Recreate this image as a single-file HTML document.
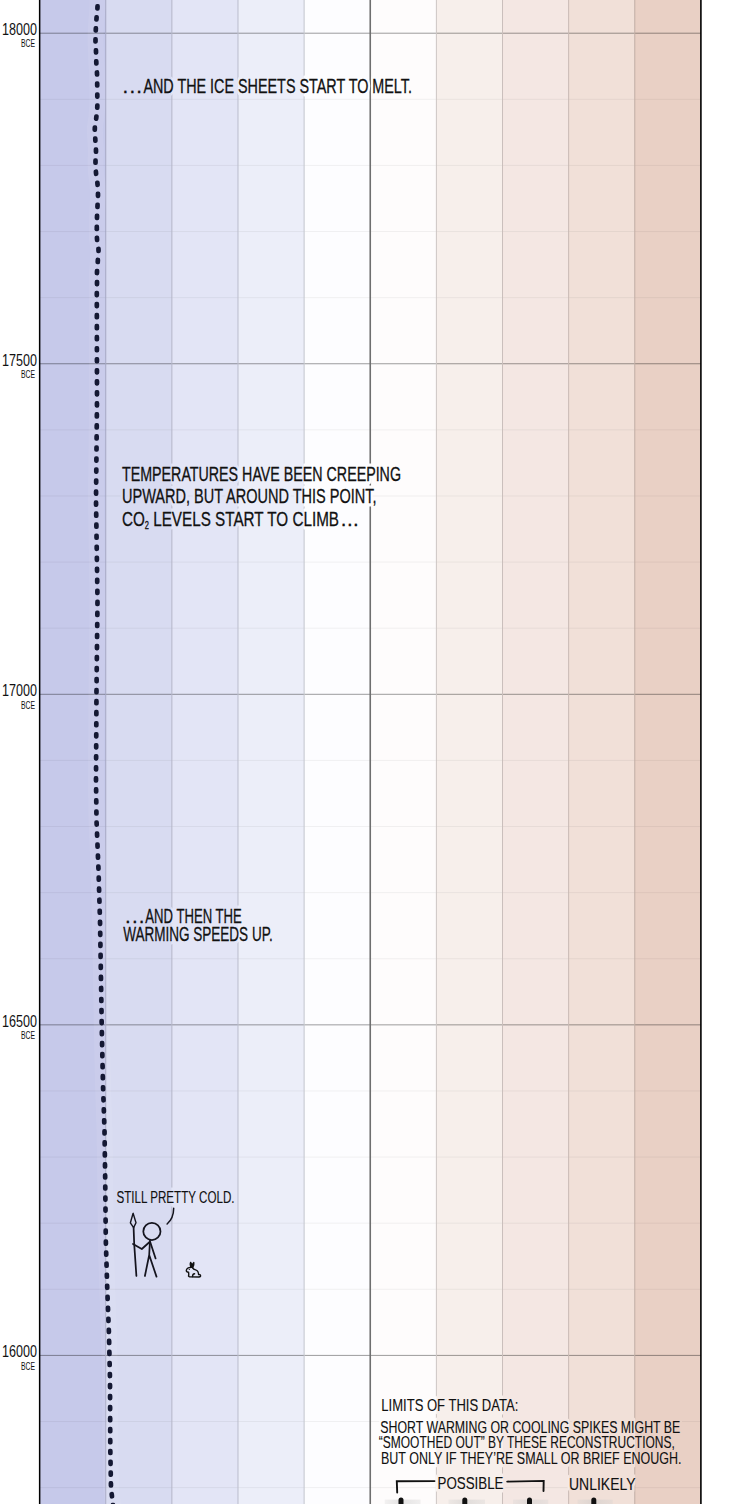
<!DOCTYPE html>
<html><head><meta charset="utf-8"><style>
html,body{margin:0;padding:0;background:#fff;width:740px;height:1504px;overflow:hidden}
svg{display:block}
text{font-family:"Liberation Sans",sans-serif;fill:#111;stroke:#111;stroke-width:0.3px}
.yr{font-size:16.5px;stroke-width:0px}
.bce{font-size:10.5px;stroke-width:0px}
.t{font-size:20.5px}
.s{font-size:17px;stroke-width:0.12px}
.sub{font-size:10px}
.halo text{fill:#000;stroke:#000;stroke-width:7px;stroke-linejoin:round}
</style></head><body>
<svg width="740" height="1504" viewBox="0 0 740 1504">
<defs><linearGradient id="bg" x1="0" x2="1" y1="0" y2="0"><stop offset="0" stop-color="#d0d0d0" stop-opacity="0.25"/><stop offset="0.45" stop-color="#c8c8c8" stop-opacity="0.5"/><stop offset="1" stop-color="#d0d0d0" stop-opacity="0.3"/></linearGradient><mask id="km" maskUnits="userSpaceOnUse" x="0" y="0" width="740" height="1504"><rect x="0" y="0" width="740" height="1504" fill="#fff"/><g class="halo"><text x="122.5" y="92.5" class="t" textLength="19.5" lengthAdjust="spacing">...</text>
<text x="143.4" y="92.5" class="t" textLength="268.5" lengthAdjust="spacingAndGlyphs">AND THE ICE SHEETS START TO MELT.</text>
<text x="122" y="480.5" class="t" textLength="279" lengthAdjust="spacingAndGlyphs">TEMPERATURES HAVE BEEN CREEPING</text>
<text x="122" y="502.7" class="t" textLength="254.5" lengthAdjust="spacingAndGlyphs">UPWARD, BUT AROUND THIS POINT,</text>
<text x="122" y="526" class="t" textLength="217" lengthAdjust="spacingAndGlyphs">CO<tspan class="sub" dy="3">2</tspan><tspan dy="-3"> LEVELS START TO CLIMB</tspan></text>
<text x="340.8" y="526" class="t" textLength="18" lengthAdjust="spacing">...</text>
<text x="125" y="922.7" class="t" textLength="19.5" lengthAdjust="spacing">...</text>
<text x="145.3" y="922.7" class="t" textLength="96.5" lengthAdjust="spacingAndGlyphs">AND THEN THE</text>
<text x="123.2" y="941" class="t" textLength="149.5" lengthAdjust="spacingAndGlyphs">WARMING SPEEDS UP.</text>
<text x="116.5" y="1202.7" class="s" textLength="118" lengthAdjust="spacingAndGlyphs">STILL PRETTY COLD.</text>
<text x="381.3" y="1410.5" class="s" textLength="137" lengthAdjust="spacingAndGlyphs">LIMITS OF THIS DATA:</text>
<text x="380.3" y="1432.5" class="s" textLength="300" lengthAdjust="spacingAndGlyphs">SHORT WARMING OR COOLING SPIKES MIGHT BE</text>
<text x="378.8" y="1447.5" class="s" textLength="296" lengthAdjust="spacingAndGlyphs">“SMOOTHED OUT” BY THESE RECONSTRUCTIONS,</text>
<text x="381" y="1463.5" class="s" textLength="300.5" lengthAdjust="spacingAndGlyphs">BUT ONLY IF THEY’RE SMALL OR BRIEF ENOUGH.</text>
<text x="437.5" y="1489" class="s" textLength="66" lengthAdjust="spacingAndGlyphs">POSSIBLE</text>
<text x="569" y="1489.5" class="s" textLength="66.5" lengthAdjust="spacingAndGlyphs">UNLIKELY</text></g></mask></defs>
<rect x="0" y="0" width="740" height="1504" fill="#fff"/>
<rect x="39.60" y="0" width="66.13" height="1504" fill="#c6c9ea"/>
<rect x="105.73" y="0" width="66.13" height="1504" fill="#d8dbf1"/>
<rect x="171.86" y="0" width="66.13" height="1504" fill="#e3e5f6"/>
<rect x="237.99" y="0" width="66.13" height="1504" fill="#eceef9"/>
<rect x="304.12" y="0" width="66.13" height="1504" fill="#fdfdff"/>
<rect x="370.25" y="0" width="66.13" height="1504" fill="#fefcfc"/>
<rect x="436.38" y="0" width="66.13" height="1504" fill="#f7efeb"/>
<rect x="502.51" y="0" width="66.13" height="1504" fill="#f4e7e3"/>
<rect x="568.64" y="0" width="66.13" height="1504" fill="#f1e0d8"/>
<rect x="634.77" y="0" width="66.13" height="1504" fill="#e9d0c5"/>
<g mask="url(#km)">
<rect x="39.60" y="32.70" width="66.13" height="1" fill="#7a7c91"/>
<rect x="105.73" y="32.70" width="66.13" height="1" fill="#858795"/>
<rect x="171.86" y="32.70" width="66.13" height="1" fill="#8c8d98"/>
<rect x="237.99" y="32.70" width="66.13" height="1" fill="#92939a"/>
<rect x="304.12" y="32.70" width="66.13" height="1" fill="#9c9c9e"/>
<rect x="370.25" y="32.70" width="66.13" height="1" fill="#9d9c9c"/>
<rect x="436.38" y="32.70" width="66.13" height="1" fill="#999491"/>
<rect x="502.51" y="32.70" width="66.13" height="1" fill="#978f8c"/>
<rect x="568.64" y="32.70" width="66.13" height="1" fill="#958a85"/>
<rect x="634.77" y="32.70" width="66.13" height="1" fill="#90807a"/>
<rect x="39.60" y="98.81" width="66.13" height="1" fill="#bcbede"/>
<rect x="105.73" y="98.81" width="66.13" height="1" fill="#cdd0e4"/>
<rect x="171.86" y="98.81" width="66.13" height="1" fill="#d7d9e9"/>
<rect x="237.99" y="98.81" width="66.13" height="1" fill="#e0e2ec"/>
<rect x="304.12" y="98.81" width="66.13" height="1" fill="#f0f0f2"/>
<rect x="370.25" y="98.81" width="66.13" height="1" fill="#f1efef"/>
<rect x="436.38" y="98.81" width="66.13" height="1" fill="#eae3df"/>
<rect x="502.51" y="98.81" width="66.13" height="1" fill="#e7dbd7"/>
<rect x="568.64" y="98.81" width="66.13" height="1" fill="#e4d4cd"/>
<rect x="634.77" y="98.81" width="66.13" height="1" fill="#ddc5bb"/>
<rect x="39.60" y="164.92" width="66.13" height="1" fill="#bcbede"/>
<rect x="105.73" y="164.92" width="66.13" height="1" fill="#cdd0e4"/>
<rect x="171.86" y="164.92" width="66.13" height="1" fill="#d7d9e9"/>
<rect x="237.99" y="164.92" width="66.13" height="1" fill="#e0e2ec"/>
<rect x="304.12" y="164.92" width="66.13" height="1" fill="#f0f0f2"/>
<rect x="370.25" y="164.92" width="66.13" height="1" fill="#f1efef"/>
<rect x="436.38" y="164.92" width="66.13" height="1" fill="#eae3df"/>
<rect x="502.51" y="164.92" width="66.13" height="1" fill="#e7dbd7"/>
<rect x="568.64" y="164.92" width="66.13" height="1" fill="#e4d4cd"/>
<rect x="634.77" y="164.92" width="66.13" height="1" fill="#ddc5bb"/>
<rect x="39.60" y="231.03" width="66.13" height="1" fill="#bcbede"/>
<rect x="105.73" y="231.03" width="66.13" height="1" fill="#cdd0e4"/>
<rect x="171.86" y="231.03" width="66.13" height="1" fill="#d7d9e9"/>
<rect x="237.99" y="231.03" width="66.13" height="1" fill="#e0e2ec"/>
<rect x="304.12" y="231.03" width="66.13" height="1" fill="#f0f0f2"/>
<rect x="370.25" y="231.03" width="66.13" height="1" fill="#f1efef"/>
<rect x="436.38" y="231.03" width="66.13" height="1" fill="#eae3df"/>
<rect x="502.51" y="231.03" width="66.13" height="1" fill="#e7dbd7"/>
<rect x="568.64" y="231.03" width="66.13" height="1" fill="#e4d4cd"/>
<rect x="634.77" y="231.03" width="66.13" height="1" fill="#ddc5bb"/>
<rect x="39.60" y="297.14" width="66.13" height="1" fill="#bcbede"/>
<rect x="105.73" y="297.14" width="66.13" height="1" fill="#cdd0e4"/>
<rect x="171.86" y="297.14" width="66.13" height="1" fill="#d7d9e9"/>
<rect x="237.99" y="297.14" width="66.13" height="1" fill="#e0e2ec"/>
<rect x="304.12" y="297.14" width="66.13" height="1" fill="#f0f0f2"/>
<rect x="370.25" y="297.14" width="66.13" height="1" fill="#f1efef"/>
<rect x="436.38" y="297.14" width="66.13" height="1" fill="#eae3df"/>
<rect x="502.51" y="297.14" width="66.13" height="1" fill="#e7dbd7"/>
<rect x="568.64" y="297.14" width="66.13" height="1" fill="#e4d4cd"/>
<rect x="634.77" y="297.14" width="66.13" height="1" fill="#ddc5bb"/>
<rect x="39.60" y="363.25" width="66.13" height="1" fill="#7a7c91"/>
<rect x="105.73" y="363.25" width="66.13" height="1" fill="#858795"/>
<rect x="171.86" y="363.25" width="66.13" height="1" fill="#8c8d98"/>
<rect x="237.99" y="363.25" width="66.13" height="1" fill="#92939a"/>
<rect x="304.12" y="363.25" width="66.13" height="1" fill="#9c9c9e"/>
<rect x="370.25" y="363.25" width="66.13" height="1" fill="#9d9c9c"/>
<rect x="436.38" y="363.25" width="66.13" height="1" fill="#999491"/>
<rect x="502.51" y="363.25" width="66.13" height="1" fill="#978f8c"/>
<rect x="568.64" y="363.25" width="66.13" height="1" fill="#958a85"/>
<rect x="634.77" y="363.25" width="66.13" height="1" fill="#90807a"/>
<rect x="39.60" y="429.36" width="66.13" height="1" fill="#bcbede"/>
<rect x="105.73" y="429.36" width="66.13" height="1" fill="#cdd0e4"/>
<rect x="171.86" y="429.36" width="66.13" height="1" fill="#d7d9e9"/>
<rect x="237.99" y="429.36" width="66.13" height="1" fill="#e0e2ec"/>
<rect x="304.12" y="429.36" width="66.13" height="1" fill="#f0f0f2"/>
<rect x="370.25" y="429.36" width="66.13" height="1" fill="#f1efef"/>
<rect x="436.38" y="429.36" width="66.13" height="1" fill="#eae3df"/>
<rect x="502.51" y="429.36" width="66.13" height="1" fill="#e7dbd7"/>
<rect x="568.64" y="429.36" width="66.13" height="1" fill="#e4d4cd"/>
<rect x="634.77" y="429.36" width="66.13" height="1" fill="#ddc5bb"/>
<rect x="39.60" y="495.47" width="66.13" height="1" fill="#bcbede"/>
<rect x="105.73" y="495.47" width="66.13" height="1" fill="#cdd0e4"/>
<rect x="171.86" y="495.47" width="66.13" height="1" fill="#d7d9e9"/>
<rect x="237.99" y="495.47" width="66.13" height="1" fill="#e0e2ec"/>
<rect x="304.12" y="495.47" width="66.13" height="1" fill="#f0f0f2"/>
<rect x="370.25" y="495.47" width="66.13" height="1" fill="#f1efef"/>
<rect x="436.38" y="495.47" width="66.13" height="1" fill="#eae3df"/>
<rect x="502.51" y="495.47" width="66.13" height="1" fill="#e7dbd7"/>
<rect x="568.64" y="495.47" width="66.13" height="1" fill="#e4d4cd"/>
<rect x="634.77" y="495.47" width="66.13" height="1" fill="#ddc5bb"/>
<rect x="39.60" y="561.58" width="66.13" height="1" fill="#bcbede"/>
<rect x="105.73" y="561.58" width="66.13" height="1" fill="#cdd0e4"/>
<rect x="171.86" y="561.58" width="66.13" height="1" fill="#d7d9e9"/>
<rect x="237.99" y="561.58" width="66.13" height="1" fill="#e0e2ec"/>
<rect x="304.12" y="561.58" width="66.13" height="1" fill="#f0f0f2"/>
<rect x="370.25" y="561.58" width="66.13" height="1" fill="#f1efef"/>
<rect x="436.38" y="561.58" width="66.13" height="1" fill="#eae3df"/>
<rect x="502.51" y="561.58" width="66.13" height="1" fill="#e7dbd7"/>
<rect x="568.64" y="561.58" width="66.13" height="1" fill="#e4d4cd"/>
<rect x="634.77" y="561.58" width="66.13" height="1" fill="#ddc5bb"/>
<rect x="39.60" y="627.69" width="66.13" height="1" fill="#bcbede"/>
<rect x="105.73" y="627.69" width="66.13" height="1" fill="#cdd0e4"/>
<rect x="171.86" y="627.69" width="66.13" height="1" fill="#d7d9e9"/>
<rect x="237.99" y="627.69" width="66.13" height="1" fill="#e0e2ec"/>
<rect x="304.12" y="627.69" width="66.13" height="1" fill="#f0f0f2"/>
<rect x="370.25" y="627.69" width="66.13" height="1" fill="#f1efef"/>
<rect x="436.38" y="627.69" width="66.13" height="1" fill="#eae3df"/>
<rect x="502.51" y="627.69" width="66.13" height="1" fill="#e7dbd7"/>
<rect x="568.64" y="627.69" width="66.13" height="1" fill="#e4d4cd"/>
<rect x="634.77" y="627.69" width="66.13" height="1" fill="#ddc5bb"/>
<rect x="39.60" y="693.80" width="66.13" height="1" fill="#7a7c91"/>
<rect x="105.73" y="693.80" width="66.13" height="1" fill="#858795"/>
<rect x="171.86" y="693.80" width="66.13" height="1" fill="#8c8d98"/>
<rect x="237.99" y="693.80" width="66.13" height="1" fill="#92939a"/>
<rect x="304.12" y="693.80" width="66.13" height="1" fill="#9c9c9e"/>
<rect x="370.25" y="693.80" width="66.13" height="1" fill="#9d9c9c"/>
<rect x="436.38" y="693.80" width="66.13" height="1" fill="#999491"/>
<rect x="502.51" y="693.80" width="66.13" height="1" fill="#978f8c"/>
<rect x="568.64" y="693.80" width="66.13" height="1" fill="#958a85"/>
<rect x="634.77" y="693.80" width="66.13" height="1" fill="#90807a"/>
<rect x="39.60" y="759.91" width="66.13" height="1" fill="#bcbede"/>
<rect x="105.73" y="759.91" width="66.13" height="1" fill="#cdd0e4"/>
<rect x="171.86" y="759.91" width="66.13" height="1" fill="#d7d9e9"/>
<rect x="237.99" y="759.91" width="66.13" height="1" fill="#e0e2ec"/>
<rect x="304.12" y="759.91" width="66.13" height="1" fill="#f0f0f2"/>
<rect x="370.25" y="759.91" width="66.13" height="1" fill="#f1efef"/>
<rect x="436.38" y="759.91" width="66.13" height="1" fill="#eae3df"/>
<rect x="502.51" y="759.91" width="66.13" height="1" fill="#e7dbd7"/>
<rect x="568.64" y="759.91" width="66.13" height="1" fill="#e4d4cd"/>
<rect x="634.77" y="759.91" width="66.13" height="1" fill="#ddc5bb"/>
<rect x="39.60" y="826.02" width="66.13" height="1" fill="#bcbede"/>
<rect x="105.73" y="826.02" width="66.13" height="1" fill="#cdd0e4"/>
<rect x="171.86" y="826.02" width="66.13" height="1" fill="#d7d9e9"/>
<rect x="237.99" y="826.02" width="66.13" height="1" fill="#e0e2ec"/>
<rect x="304.12" y="826.02" width="66.13" height="1" fill="#f0f0f2"/>
<rect x="370.25" y="826.02" width="66.13" height="1" fill="#f1efef"/>
<rect x="436.38" y="826.02" width="66.13" height="1" fill="#eae3df"/>
<rect x="502.51" y="826.02" width="66.13" height="1" fill="#e7dbd7"/>
<rect x="568.64" y="826.02" width="66.13" height="1" fill="#e4d4cd"/>
<rect x="634.77" y="826.02" width="66.13" height="1" fill="#ddc5bb"/>
<rect x="39.60" y="892.13" width="66.13" height="1" fill="#bcbede"/>
<rect x="105.73" y="892.13" width="66.13" height="1" fill="#cdd0e4"/>
<rect x="171.86" y="892.13" width="66.13" height="1" fill="#d7d9e9"/>
<rect x="237.99" y="892.13" width="66.13" height="1" fill="#e0e2ec"/>
<rect x="304.12" y="892.13" width="66.13" height="1" fill="#f0f0f2"/>
<rect x="370.25" y="892.13" width="66.13" height="1" fill="#f1efef"/>
<rect x="436.38" y="892.13" width="66.13" height="1" fill="#eae3df"/>
<rect x="502.51" y="892.13" width="66.13" height="1" fill="#e7dbd7"/>
<rect x="568.64" y="892.13" width="66.13" height="1" fill="#e4d4cd"/>
<rect x="634.77" y="892.13" width="66.13" height="1" fill="#ddc5bb"/>
<rect x="39.60" y="958.24" width="66.13" height="1" fill="#bcbede"/>
<rect x="105.73" y="958.24" width="66.13" height="1" fill="#cdd0e4"/>
<rect x="171.86" y="958.24" width="66.13" height="1" fill="#d7d9e9"/>
<rect x="237.99" y="958.24" width="66.13" height="1" fill="#e0e2ec"/>
<rect x="304.12" y="958.24" width="66.13" height="1" fill="#f0f0f2"/>
<rect x="370.25" y="958.24" width="66.13" height="1" fill="#f1efef"/>
<rect x="436.38" y="958.24" width="66.13" height="1" fill="#eae3df"/>
<rect x="502.51" y="958.24" width="66.13" height="1" fill="#e7dbd7"/>
<rect x="568.64" y="958.24" width="66.13" height="1" fill="#e4d4cd"/>
<rect x="634.77" y="958.24" width="66.13" height="1" fill="#ddc5bb"/>
<rect x="39.60" y="1024.35" width="66.13" height="1" fill="#7a7c91"/>
<rect x="105.73" y="1024.35" width="66.13" height="1" fill="#858795"/>
<rect x="171.86" y="1024.35" width="66.13" height="1" fill="#8c8d98"/>
<rect x="237.99" y="1024.35" width="66.13" height="1" fill="#92939a"/>
<rect x="304.12" y="1024.35" width="66.13" height="1" fill="#9c9c9e"/>
<rect x="370.25" y="1024.35" width="66.13" height="1" fill="#9d9c9c"/>
<rect x="436.38" y="1024.35" width="66.13" height="1" fill="#999491"/>
<rect x="502.51" y="1024.35" width="66.13" height="1" fill="#978f8c"/>
<rect x="568.64" y="1024.35" width="66.13" height="1" fill="#958a85"/>
<rect x="634.77" y="1024.35" width="66.13" height="1" fill="#90807a"/>
<rect x="39.60" y="1090.46" width="66.13" height="1" fill="#bcbede"/>
<rect x="105.73" y="1090.46" width="66.13" height="1" fill="#cdd0e4"/>
<rect x="171.86" y="1090.46" width="66.13" height="1" fill="#d7d9e9"/>
<rect x="237.99" y="1090.46" width="66.13" height="1" fill="#e0e2ec"/>
<rect x="304.12" y="1090.46" width="66.13" height="1" fill="#f0f0f2"/>
<rect x="370.25" y="1090.46" width="66.13" height="1" fill="#f1efef"/>
<rect x="436.38" y="1090.46" width="66.13" height="1" fill="#eae3df"/>
<rect x="502.51" y="1090.46" width="66.13" height="1" fill="#e7dbd7"/>
<rect x="568.64" y="1090.46" width="66.13" height="1" fill="#e4d4cd"/>
<rect x="634.77" y="1090.46" width="66.13" height="1" fill="#ddc5bb"/>
<rect x="39.60" y="1156.57" width="66.13" height="1" fill="#bcbede"/>
<rect x="105.73" y="1156.57" width="66.13" height="1" fill="#cdd0e4"/>
<rect x="171.86" y="1156.57" width="66.13" height="1" fill="#d7d9e9"/>
<rect x="237.99" y="1156.57" width="66.13" height="1" fill="#e0e2ec"/>
<rect x="304.12" y="1156.57" width="66.13" height="1" fill="#f0f0f2"/>
<rect x="370.25" y="1156.57" width="66.13" height="1" fill="#f1efef"/>
<rect x="436.38" y="1156.57" width="66.13" height="1" fill="#eae3df"/>
<rect x="502.51" y="1156.57" width="66.13" height="1" fill="#e7dbd7"/>
<rect x="568.64" y="1156.57" width="66.13" height="1" fill="#e4d4cd"/>
<rect x="634.77" y="1156.57" width="66.13" height="1" fill="#ddc5bb"/>
<rect x="39.60" y="1222.68" width="66.13" height="1" fill="#bcbede"/>
<rect x="105.73" y="1222.68" width="66.13" height="1" fill="#cdd0e4"/>
<rect x="171.86" y="1222.68" width="66.13" height="1" fill="#d7d9e9"/>
<rect x="237.99" y="1222.68" width="66.13" height="1" fill="#e0e2ec"/>
<rect x="304.12" y="1222.68" width="66.13" height="1" fill="#f0f0f2"/>
<rect x="370.25" y="1222.68" width="66.13" height="1" fill="#f1efef"/>
<rect x="436.38" y="1222.68" width="66.13" height="1" fill="#eae3df"/>
<rect x="502.51" y="1222.68" width="66.13" height="1" fill="#e7dbd7"/>
<rect x="568.64" y="1222.68" width="66.13" height="1" fill="#e4d4cd"/>
<rect x="634.77" y="1222.68" width="66.13" height="1" fill="#ddc5bb"/>
<rect x="39.60" y="1288.79" width="66.13" height="1" fill="#bcbede"/>
<rect x="105.73" y="1288.79" width="66.13" height="1" fill="#cdd0e4"/>
<rect x="171.86" y="1288.79" width="66.13" height="1" fill="#d7d9e9"/>
<rect x="237.99" y="1288.79" width="66.13" height="1" fill="#e0e2ec"/>
<rect x="304.12" y="1288.79" width="66.13" height="1" fill="#f0f0f2"/>
<rect x="370.25" y="1288.79" width="66.13" height="1" fill="#f1efef"/>
<rect x="436.38" y="1288.79" width="66.13" height="1" fill="#eae3df"/>
<rect x="502.51" y="1288.79" width="66.13" height="1" fill="#e7dbd7"/>
<rect x="568.64" y="1288.79" width="66.13" height="1" fill="#e4d4cd"/>
<rect x="634.77" y="1288.79" width="66.13" height="1" fill="#ddc5bb"/>
<rect x="39.60" y="1354.90" width="66.13" height="1" fill="#7a7c91"/>
<rect x="105.73" y="1354.90" width="66.13" height="1" fill="#858795"/>
<rect x="171.86" y="1354.90" width="66.13" height="1" fill="#8c8d98"/>
<rect x="237.99" y="1354.90" width="66.13" height="1" fill="#92939a"/>
<rect x="304.12" y="1354.90" width="66.13" height="1" fill="#9c9c9e"/>
<rect x="370.25" y="1354.90" width="66.13" height="1" fill="#9d9c9c"/>
<rect x="436.38" y="1354.90" width="66.13" height="1" fill="#999491"/>
<rect x="502.51" y="1354.90" width="66.13" height="1" fill="#978f8c"/>
<rect x="568.64" y="1354.90" width="66.13" height="1" fill="#958a85"/>
<rect x="634.77" y="1354.90" width="66.13" height="1" fill="#90807a"/>
<rect x="39.60" y="1421.01" width="66.13" height="1" fill="#bcbede"/>
<rect x="105.73" y="1421.01" width="66.13" height="1" fill="#cdd0e4"/>
<rect x="171.86" y="1421.01" width="66.13" height="1" fill="#d7d9e9"/>
<rect x="237.99" y="1421.01" width="66.13" height="1" fill="#e0e2ec"/>
<rect x="304.12" y="1421.01" width="66.13" height="1" fill="#f0f0f2"/>
<rect x="370.25" y="1421.01" width="66.13" height="1" fill="#f1efef"/>
<rect x="436.38" y="1421.01" width="66.13" height="1" fill="#eae3df"/>
<rect x="502.51" y="1421.01" width="66.13" height="1" fill="#e7dbd7"/>
<rect x="568.64" y="1421.01" width="66.13" height="1" fill="#e4d4cd"/>
<rect x="634.77" y="1421.01" width="66.13" height="1" fill="#ddc5bb"/>
<rect x="39.60" y="1487.12" width="66.13" height="1" fill="#bcbede"/>
<rect x="105.73" y="1487.12" width="66.13" height="1" fill="#cdd0e4"/>
<rect x="171.86" y="1487.12" width="66.13" height="1" fill="#d7d9e9"/>
<rect x="237.99" y="1487.12" width="66.13" height="1" fill="#e0e2ec"/>
<rect x="304.12" y="1487.12" width="66.13" height="1" fill="#f0f0f2"/>
<rect x="370.25" y="1487.12" width="66.13" height="1" fill="#f1efef"/>
<rect x="436.38" y="1487.12" width="66.13" height="1" fill="#eae3df"/>
<rect x="502.51" y="1487.12" width="66.13" height="1" fill="#e7dbd7"/>
<rect x="568.64" y="1487.12" width="66.13" height="1" fill="#e4d4cd"/>
<rect x="634.77" y="1487.12" width="66.13" height="1" fill="#ddc5bb"/>
<rect x="105.23" y="0" width="1" height="1504" fill="#a4a6c2"/>
<rect x="171.36" y="0" width="1" height="1504" fill="#b3b5c8"/>
<rect x="237.49" y="0" width="1" height="1504" fill="#bcbecc"/>
<rect x="303.62" y="0" width="1" height="1504" fill="#c3c5ce"/>
<rect x="435.88" y="0" width="1" height="1504" fill="#cdc6c3"/>
<rect x="502.01" y="0" width="1" height="1504" fill="#cabfbc"/>
<rect x="568.14" y="0" width="1" height="1504" fill="#c8b9b3"/>
<rect x="634.27" y="0" width="1" height="1504" fill="#c1aca3"/>
<rect x="369.45" y="0" width="1.6" height="1504" fill="#6e6e6e"/>
<rect x="38.9" y="0" width="1.5" height="1504" fill="#000"/>
<rect x="700.1" y="0" width="1.6" height="1504" fill="#000"/>
</g>
<path d="M97.5,-10 L97.5,7 L96.5,18.5 L95.8,29.5 L95.5,40.5 L96,51.5 L96.3,62.5 L97,73.5 L97.2,84.5 L97.3,95.5 L97.3,106.5 L96.3,117.5 L94.8,128.5 L95.3,139.5 L96,151 L95.5,162 L96,173 L97.5,184 L98,195 L97.5,206 L97,217 L96.8,228 L97,239 L98.5,250 L97.8,261 L97,272 L97,283 L96.8,294 L97,400 L96,500 L97.5,600 L96.5,690 L96,780 L96.5,820 L98.5,870 L100,920 L101,980 L101.8,1030 L103,1085 L104.5,1130 L105.2,1180 L105.8,1240 L107.3,1290 L109,1335 L110,1380 L110.3,1450 L111,1488 L113,1505 L114,1520" fill="none" stroke="#fff" stroke-opacity="0.07" stroke-width="16"/>
<g fill="#141833">
<rect x="95.15" y="-7.08" width="4.7" height="6.7" rx="1.9" ry="2.1" transform="rotate(-0.0 97.50 -3.73)"/>
<rect x="95.12" y="3.95" width="4.7" height="6.7" rx="1.9" ry="2.1" transform="rotate(2.7 97.47 7.30)"/>
<rect x="94.16" y="14.98" width="4.7" height="6.7" rx="1.9" ry="2.1" transform="rotate(4.3 96.51 18.33)"/>
<rect x="93.46" y="26.01" width="4.7" height="6.7" rx="1.9" ry="2.1" transform="rotate(2.7 95.81 29.36)"/>
<rect x="93.15" y="37.04" width="4.7" height="6.7" rx="1.9" ry="2.1" transform="rotate(-0.4 95.50 40.39)"/>
<rect x="93.65" y="48.07" width="4.7" height="6.7" rx="1.9" ry="2.1" transform="rotate(-2.1 96.00 51.42)"/>
<rect x="93.95" y="59.10" width="4.7" height="6.7" rx="1.9" ry="2.1" transform="rotate(-2.6 96.30 62.45)"/>
<rect x="94.65" y="70.13" width="4.7" height="6.7" rx="1.9" ry="2.1" transform="rotate(-2.4 97.00 73.48)"/>
<rect x="94.85" y="81.16" width="4.7" height="6.7" rx="1.9" ry="2.1" transform="rotate(-0.8 97.20 84.51)"/>
<rect x="94.95" y="92.19" width="4.7" height="6.7" rx="1.9" ry="2.1" transform="rotate(-0.3 97.30 95.54)"/>
<rect x="94.94" y="103.22" width="4.7" height="6.7" rx="1.9" ry="2.1" transform="rotate(2.7 97.29 106.57)"/>
<rect x="93.94" y="114.25" width="4.7" height="6.7" rx="1.9" ry="2.1" transform="rotate(6.5 96.29 117.60)"/>
<rect x="92.46" y="125.28" width="4.7" height="6.7" rx="1.9" ry="2.1" transform="rotate(2.4 94.81 128.63)"/>
<rect x="92.96" y="136.31" width="4.7" height="6.7" rx="1.9" ry="2.1" transform="rotate(-3.1 95.31 139.66)"/>
<rect x="93.63" y="147.34" width="4.7" height="6.7" rx="1.9" ry="2.1" transform="rotate(-0.8 95.98 150.69)"/>
<rect x="93.16" y="158.37" width="4.7" height="6.7" rx="1.9" ry="2.1" transform="rotate(0.2 95.51 161.72)"/>
<rect x="93.64" y="169.40" width="4.7" height="6.7" rx="1.9" ry="2.1" transform="rotate(-5.0 95.99 172.75)"/>
<rect x="95.12" y="180.43" width="4.7" height="6.7" rx="1.9" ry="2.1" transform="rotate(-5.4 97.47 183.78)"/>
<rect x="95.64" y="191.46" width="4.7" height="6.7" rx="1.9" ry="2.1" transform="rotate(-0.2 97.99 194.81)"/>
<rect x="95.16" y="202.49" width="4.7" height="6.7" rx="1.9" ry="2.1" transform="rotate(2.6 97.51 205.84)"/>
<rect x="94.66" y="213.52" width="4.7" height="6.7" rx="1.9" ry="2.1" transform="rotate(1.9 97.01 216.87)"/>
<rect x="94.45" y="224.55" width="4.7" height="6.7" rx="1.9" ry="2.1" transform="rotate(0.0 96.80 227.90)"/>
<rect x="94.65" y="235.58" width="4.7" height="6.7" rx="1.9" ry="2.1" transform="rotate(-4.3 97.00 238.93)"/>
<rect x="96.14" y="246.61" width="4.7" height="6.7" rx="1.9" ry="2.1" transform="rotate(-2.2 98.49 249.96)"/>
<rect x="95.45" y="257.64" width="4.7" height="6.7" rx="1.9" ry="2.1" transform="rotate(3.9 97.80 260.99)"/>
<rect x="94.65" y="268.67" width="4.7" height="6.7" rx="1.9" ry="2.1" transform="rotate(2.1 97.00 272.02)"/>
<rect x="94.65" y="279.70" width="4.7" height="6.7" rx="1.9" ry="2.1" transform="rotate(0.5 97.00 283.05)"/>
<rect x="94.45" y="290.73" width="4.7" height="6.7" rx="1.9" ry="2.1" transform="rotate(0.5 96.80 294.08)"/>
<rect x="94.47" y="301.76" width="4.7" height="6.7" rx="1.9" ry="2.1" transform="rotate(-0.1 96.82 305.11)"/>
<rect x="94.49" y="312.79" width="4.7" height="6.7" rx="1.9" ry="2.1" transform="rotate(-0.1 96.84 316.14)"/>
<rect x="94.51" y="323.82" width="4.7" height="6.7" rx="1.9" ry="2.1" transform="rotate(-0.1 96.86 327.17)"/>
<rect x="94.53" y="334.85" width="4.7" height="6.7" rx="1.9" ry="2.1" transform="rotate(-0.1 96.88 338.20)"/>
<rect x="94.55" y="345.88" width="4.7" height="6.7" rx="1.9" ry="2.1" transform="rotate(-0.1 96.90 349.23)"/>
<rect x="94.58" y="356.91" width="4.7" height="6.7" rx="1.9" ry="2.1" transform="rotate(-0.1 96.93 360.26)"/>
<rect x="94.60" y="367.94" width="4.7" height="6.7" rx="1.9" ry="2.1" transform="rotate(-0.1 96.95 371.29)"/>
<rect x="94.62" y="378.97" width="4.7" height="6.7" rx="1.9" ry="2.1" transform="rotate(-0.1 96.97 382.32)"/>
<rect x="94.64" y="390.00" width="4.7" height="6.7" rx="1.9" ry="2.1" transform="rotate(-0.1 96.99 393.35)"/>
<rect x="94.61" y="401.03" width="4.7" height="6.7" rx="1.9" ry="2.1" transform="rotate(0.6 96.96 404.38)"/>
<rect x="94.50" y="412.06" width="4.7" height="6.7" rx="1.9" ry="2.1" transform="rotate(0.6 96.85 415.41)"/>
<rect x="94.39" y="423.09" width="4.7" height="6.7" rx="1.9" ry="2.1" transform="rotate(0.6 96.74 426.44)"/>
<rect x="94.28" y="434.12" width="4.7" height="6.7" rx="1.9" ry="2.1" transform="rotate(0.6 96.63 437.47)"/>
<rect x="94.17" y="445.15" width="4.7" height="6.7" rx="1.9" ry="2.1" transform="rotate(0.6 96.52 448.50)"/>
<rect x="94.05" y="456.18" width="4.7" height="6.7" rx="1.9" ry="2.1" transform="rotate(0.6 96.40 459.53)"/>
<rect x="93.94" y="467.21" width="4.7" height="6.7" rx="1.9" ry="2.1" transform="rotate(0.6 96.29 470.56)"/>
<rect x="93.83" y="478.24" width="4.7" height="6.7" rx="1.9" ry="2.1" transform="rotate(0.6 96.18 481.59)"/>
<rect x="93.72" y="489.27" width="4.7" height="6.7" rx="1.9" ry="2.1" transform="rotate(0.6 96.07 492.62)"/>
<rect x="93.70" y="500.30" width="4.7" height="6.7" rx="1.9" ry="2.1" transform="rotate(-0.9 96.05 503.65)"/>
<rect x="93.87" y="511.33" width="4.7" height="6.7" rx="1.9" ry="2.1" transform="rotate(-0.9 96.22 514.68)"/>
<rect x="94.04" y="522.36" width="4.7" height="6.7" rx="1.9" ry="2.1" transform="rotate(-0.9 96.39 525.71)"/>
<rect x="94.20" y="533.39" width="4.7" height="6.7" rx="1.9" ry="2.1" transform="rotate(-0.9 96.55 536.74)"/>
<rect x="94.37" y="544.42" width="4.7" height="6.7" rx="1.9" ry="2.1" transform="rotate(-0.9 96.72 547.77)"/>
<rect x="94.53" y="555.45" width="4.7" height="6.7" rx="1.9" ry="2.1" transform="rotate(-0.9 96.88 558.80)"/>
<rect x="94.70" y="566.48" width="4.7" height="6.7" rx="1.9" ry="2.1" transform="rotate(-0.9 97.05 569.83)"/>
<rect x="94.86" y="577.51" width="4.7" height="6.7" rx="1.9" ry="2.1" transform="rotate(-0.9 97.21 580.86)"/>
<rect x="95.03" y="588.54" width="4.7" height="6.7" rx="1.9" ry="2.1" transform="rotate(-0.9 97.38 591.89)"/>
<rect x="95.12" y="599.57" width="4.7" height="6.7" rx="1.9" ry="2.1" transform="rotate(0.6 97.47 602.92)"/>
<rect x="95.00" y="610.60" width="4.7" height="6.7" rx="1.9" ry="2.1" transform="rotate(0.6 97.34 613.95)"/>
<rect x="94.87" y="621.63" width="4.7" height="6.7" rx="1.9" ry="2.1" transform="rotate(0.6 97.22 624.98)"/>
<rect x="94.75" y="632.66" width="4.7" height="6.7" rx="1.9" ry="2.1" transform="rotate(0.6 97.10 636.01)"/>
<rect x="94.63" y="643.69" width="4.7" height="6.7" rx="1.9" ry="2.1" transform="rotate(0.6 96.98 647.04)"/>
<rect x="94.50" y="654.72" width="4.7" height="6.7" rx="1.9" ry="2.1" transform="rotate(0.6 96.85 658.07)"/>
<rect x="94.38" y="665.75" width="4.7" height="6.7" rx="1.9" ry="2.1" transform="rotate(0.6 96.73 669.10)"/>
<rect x="94.26" y="676.78" width="4.7" height="6.7" rx="1.9" ry="2.1" transform="rotate(0.6 96.61 680.13)"/>
<rect x="94.14" y="687.81" width="4.7" height="6.7" rx="1.9" ry="2.1" transform="rotate(0.4 96.49 691.16)"/>
<rect x="94.08" y="698.84" width="4.7" height="6.7" rx="1.9" ry="2.1" transform="rotate(0.3 96.43 702.19)"/>
<rect x="94.02" y="709.87" width="4.7" height="6.7" rx="1.9" ry="2.1" transform="rotate(0.3 96.37 713.22)"/>
<rect x="93.96" y="720.90" width="4.7" height="6.7" rx="1.9" ry="2.1" transform="rotate(0.3 96.31 724.25)"/>
<rect x="93.90" y="731.93" width="4.7" height="6.7" rx="1.9" ry="2.1" transform="rotate(0.3 96.25 735.28)"/>
<rect x="93.84" y="742.96" width="4.7" height="6.7" rx="1.9" ry="2.1" transform="rotate(0.3 96.19 746.31)"/>
<rect x="93.78" y="753.99" width="4.7" height="6.7" rx="1.9" ry="2.1" transform="rotate(0.3 96.13 757.34)"/>
<rect x="93.71" y="765.02" width="4.7" height="6.7" rx="1.9" ry="2.1" transform="rotate(0.3 96.06 768.37)"/>
<rect x="93.65" y="776.05" width="4.7" height="6.7" rx="1.9" ry="2.1" transform="rotate(-0.1 96.00 779.40)"/>
<rect x="93.78" y="787.08" width="4.7" height="6.7" rx="1.9" ry="2.1" transform="rotate(-0.7 96.13 790.43)"/>
<rect x="93.92" y="798.11" width="4.7" height="6.7" rx="1.9" ry="2.1" transform="rotate(-0.7 96.27 801.46)"/>
<rect x="94.06" y="809.14" width="4.7" height="6.7" rx="1.9" ry="2.1" transform="rotate(-0.7 96.41 812.49)"/>
<rect x="94.29" y="820.17" width="4.7" height="6.7" rx="1.9" ry="2.1" transform="rotate(-2.3 96.64 823.52)"/>
<rect x="94.73" y="831.20" width="4.7" height="6.7" rx="1.9" ry="2.1" transform="rotate(-2.3 97.08 834.55)"/>
<rect x="95.17" y="842.23" width="4.7" height="6.7" rx="1.9" ry="2.1" transform="rotate(-2.3 97.52 845.58)"/>
<rect x="95.61" y="853.26" width="4.7" height="6.7" rx="1.9" ry="2.1" transform="rotate(-2.3 97.96 856.61)"/>
<rect x="96.06" y="864.29" width="4.7" height="6.7" rx="1.9" ry="2.1" transform="rotate(-2.2 98.41 867.64)"/>
<rect x="96.41" y="875.32" width="4.7" height="6.7" rx="1.9" ry="2.1" transform="rotate(-1.7 98.76 878.67)"/>
<rect x="96.74" y="886.35" width="4.7" height="6.7" rx="1.9" ry="2.1" transform="rotate(-1.7 99.09 889.70)"/>
<rect x="97.07" y="897.38" width="4.7" height="6.7" rx="1.9" ry="2.1" transform="rotate(-1.7 99.42 900.73)"/>
<rect x="97.40" y="908.41" width="4.7" height="6.7" rx="1.9" ry="2.1" transform="rotate(-1.7 99.75 911.76)"/>
<rect x="97.70" y="919.44" width="4.7" height="6.7" rx="1.9" ry="2.1" transform="rotate(-1.0 100.05 922.79)"/>
<rect x="97.88" y="930.47" width="4.7" height="6.7" rx="1.9" ry="2.1" transform="rotate(-1.0 100.23 933.82)"/>
<rect x="98.06" y="941.50" width="4.7" height="6.7" rx="1.9" ry="2.1" transform="rotate(-1.0 100.41 944.85)"/>
<rect x="98.25" y="952.53" width="4.7" height="6.7" rx="1.9" ry="2.1" transform="rotate(-1.0 100.60 955.88)"/>
<rect x="98.43" y="963.56" width="4.7" height="6.7" rx="1.9" ry="2.1" transform="rotate(-1.0 100.78 966.91)"/>
<rect x="98.62" y="974.59" width="4.7" height="6.7" rx="1.9" ry="2.1" transform="rotate(-0.9 100.97 977.94)"/>
<rect x="98.79" y="985.62" width="4.7" height="6.7" rx="1.9" ry="2.1" transform="rotate(-0.9 101.14 988.97)"/>
<rect x="98.97" y="996.65" width="4.7" height="6.7" rx="1.9" ry="2.1" transform="rotate(-0.9 101.32 1000.00)"/>
<rect x="99.15" y="1007.68" width="4.7" height="6.7" rx="1.9" ry="2.1" transform="rotate(-0.9 101.50 1011.03)"/>
<rect x="99.32" y="1018.71" width="4.7" height="6.7" rx="1.9" ry="2.1" transform="rotate(-0.9 101.67 1022.06)"/>
<rect x="99.52" y="1029.74" width="4.7" height="6.7" rx="1.9" ry="2.1" transform="rotate(-1.2 101.87 1033.09)"/>
<rect x="99.76" y="1040.77" width="4.7" height="6.7" rx="1.9" ry="2.1" transform="rotate(-1.2 102.11 1044.12)"/>
<rect x="100.00" y="1051.80" width="4.7" height="6.7" rx="1.9" ry="2.1" transform="rotate(-1.2 102.35 1055.15)"/>
<rect x="100.24" y="1062.83" width="4.7" height="6.7" rx="1.9" ry="2.1" transform="rotate(-1.2 102.59 1066.18)"/>
<rect x="100.48" y="1073.86" width="4.7" height="6.7" rx="1.9" ry="2.1" transform="rotate(-1.2 102.83 1077.21)"/>
<rect x="100.76" y="1084.89" width="4.7" height="6.7" rx="1.9" ry="2.1" transform="rotate(-1.9 103.11 1088.24)"/>
<rect x="101.13" y="1095.92" width="4.7" height="6.7" rx="1.9" ry="2.1" transform="rotate(-1.9 103.48 1099.27)"/>
<rect x="101.49" y="1106.95" width="4.7" height="6.7" rx="1.9" ry="2.1" transform="rotate(-1.9 103.84 1110.30)"/>
<rect x="101.86" y="1117.98" width="4.7" height="6.7" rx="1.9" ry="2.1" transform="rotate(-1.9 104.21 1121.33)"/>
<rect x="102.18" y="1129.01" width="4.7" height="6.7" rx="1.9" ry="2.1" transform="rotate(-0.9 104.53 1132.36)"/>
<rect x="102.34" y="1140.04" width="4.7" height="6.7" rx="1.9" ry="2.1" transform="rotate(-0.8 104.69 1143.39)"/>
<rect x="102.49" y="1151.07" width="4.7" height="6.7" rx="1.9" ry="2.1" transform="rotate(-0.8 104.84 1154.42)"/>
<rect x="102.65" y="1162.10" width="4.7" height="6.7" rx="1.9" ry="2.1" transform="rotate(-0.8 105.00 1165.45)"/>
<rect x="102.80" y="1173.13" width="4.7" height="6.7" rx="1.9" ry="2.1" transform="rotate(-0.8 105.15 1176.48)"/>
<rect x="102.93" y="1184.16" width="4.7" height="6.7" rx="1.9" ry="2.1" transform="rotate(-0.6 105.28 1187.51)"/>
<rect x="103.04" y="1195.19" width="4.7" height="6.7" rx="1.9" ry="2.1" transform="rotate(-0.6 105.39 1198.54)"/>
<rect x="103.15" y="1206.22" width="4.7" height="6.7" rx="1.9" ry="2.1" transform="rotate(-0.6 105.50 1209.57)"/>
<rect x="103.26" y="1217.25" width="4.7" height="6.7" rx="1.9" ry="2.1" transform="rotate(-0.6 105.61 1220.60)"/>
<rect x="103.37" y="1228.28" width="4.7" height="6.7" rx="1.9" ry="2.1" transform="rotate(-0.6 105.72 1231.63)"/>
<rect x="103.53" y="1239.31" width="4.7" height="6.7" rx="1.9" ry="2.1" transform="rotate(-1.7 105.88 1242.66)"/>
<rect x="103.86" y="1250.34" width="4.7" height="6.7" rx="1.9" ry="2.1" transform="rotate(-1.7 106.21 1253.69)"/>
<rect x="104.19" y="1261.37" width="4.7" height="6.7" rx="1.9" ry="2.1" transform="rotate(-1.7 106.54 1264.72)"/>
<rect x="104.52" y="1272.40" width="4.7" height="6.7" rx="1.9" ry="2.1" transform="rotate(-1.7 106.87 1275.75)"/>
<rect x="104.85" y="1283.43" width="4.7" height="6.7" rx="1.9" ry="2.1" transform="rotate(-1.7 107.20 1286.78)"/>
<rect x="105.25" y="1294.46" width="4.7" height="6.7" rx="1.9" ry="2.1" transform="rotate(-2.2 107.60 1297.81)"/>
<rect x="105.66" y="1305.49" width="4.7" height="6.7" rx="1.9" ry="2.1" transform="rotate(-2.2 108.01 1308.84)"/>
<rect x="106.08" y="1316.52" width="4.7" height="6.7" rx="1.9" ry="2.1" transform="rotate(-2.2 108.43 1319.87)"/>
<rect x="106.50" y="1327.55" width="4.7" height="6.7" rx="1.9" ry="2.1" transform="rotate(-2.2 108.85 1330.90)"/>
<rect x="106.80" y="1338.58" width="4.7" height="6.7" rx="1.9" ry="2.1" transform="rotate(-1.3 109.15 1341.93)"/>
<rect x="107.05" y="1349.61" width="4.7" height="6.7" rx="1.9" ry="2.1" transform="rotate(-1.3 109.40 1352.96)"/>
<rect x="107.29" y="1360.64" width="4.7" height="6.7" rx="1.9" ry="2.1" transform="rotate(-1.3 109.64 1363.99)"/>
<rect x="107.54" y="1371.67" width="4.7" height="6.7" rx="1.9" ry="2.1" transform="rotate(-1.3 109.89 1375.02)"/>
<rect x="107.68" y="1382.70" width="4.7" height="6.7" rx="1.9" ry="2.1" transform="rotate(-0.2 110.03 1386.05)"/>
<rect x="107.72" y="1393.73" width="4.7" height="6.7" rx="1.9" ry="2.1" transform="rotate(-0.2 110.07 1397.08)"/>
<rect x="107.77" y="1404.76" width="4.7" height="6.7" rx="1.9" ry="2.1" transform="rotate(-0.2 110.12 1408.11)"/>
<rect x="107.82" y="1415.79" width="4.7" height="6.7" rx="1.9" ry="2.1" transform="rotate(-0.2 110.17 1419.14)"/>
<rect x="107.87" y="1426.82" width="4.7" height="6.7" rx="1.9" ry="2.1" transform="rotate(-0.2 110.22 1430.17)"/>
<rect x="107.91" y="1437.85" width="4.7" height="6.7" rx="1.9" ry="2.1" transform="rotate(-0.2 110.26 1441.20)"/>
<rect x="107.99" y="1448.66" width="4.7" height="6.7" rx="1.9" ry="2.1" transform="rotate(-0.9 110.34 1452.01)"/>
<rect x="108.19" y="1459.47" width="4.7" height="6.7" rx="1.9" ry="2.1" transform="rotate(-1.1 110.54 1462.82)"/>
<rect x="108.39" y="1470.28" width="4.7" height="6.7" rx="1.9" ry="2.1" transform="rotate(-1.1 110.74 1473.63)"/>
<rect x="108.58" y="1481.09" width="4.7" height="6.7" rx="1.9" ry="2.1" transform="rotate(-1.1 110.93 1484.44)"/>
<rect x="109.50" y="1491.89" width="4.7" height="6.7" rx="1.9" ry="2.1" transform="rotate(-6.7 111.85 1495.24)"/>
<rect x="110.72" y="1502.70" width="4.7" height="6.7" rx="1.9" ry="2.1" transform="rotate(-4.8 113.07 1506.05)"/>
</g>
<text x="2" y="35.2" class="yr" textLength="35" lengthAdjust="spacingAndGlyphs">18000</text>
<text x="21" y="47.4" class="bce" textLength="14" lengthAdjust="spacingAndGlyphs">BCE</text>
<text x="2" y="365.8" class="yr" textLength="35" lengthAdjust="spacingAndGlyphs">17500</text>
<text x="21" y="377.9" class="bce" textLength="14" lengthAdjust="spacingAndGlyphs">BCE</text>
<text x="2" y="696.3" class="yr" textLength="35" lengthAdjust="spacingAndGlyphs">17000</text>
<text x="21" y="708.5" class="bce" textLength="14" lengthAdjust="spacingAndGlyphs">BCE</text>
<text x="2" y="1026.9" class="yr" textLength="35" lengthAdjust="spacingAndGlyphs">16500</text>
<text x="21" y="1039.1" class="bce" textLength="14" lengthAdjust="spacingAndGlyphs">BCE</text>
<text x="2" y="1357.4" class="yr" textLength="35" lengthAdjust="spacingAndGlyphs">16000</text>
<text x="21" y="1369.6" class="bce" textLength="14" lengthAdjust="spacingAndGlyphs">BCE</text>
<text x="122.5" y="92.5" class="t" textLength="19.5" lengthAdjust="spacing">...</text>
<text x="143.4" y="92.5" class="t" textLength="268.5" lengthAdjust="spacingAndGlyphs">AND THE ICE SHEETS START TO MELT.</text>
<text x="122" y="480.5" class="t" textLength="279" lengthAdjust="spacingAndGlyphs">TEMPERATURES HAVE BEEN CREEPING</text>
<text x="122" y="502.7" class="t" textLength="254.5" lengthAdjust="spacingAndGlyphs">UPWARD, BUT AROUND THIS POINT,</text>
<text x="122" y="526" class="t" textLength="217" lengthAdjust="spacingAndGlyphs">CO<tspan class="sub" dy="3">2</tspan><tspan dy="-3"> LEVELS START TO CLIMB</tspan></text>
<text x="340.8" y="526" class="t" textLength="18" lengthAdjust="spacing">...</text>
<text x="125" y="922.7" class="t" textLength="19.5" lengthAdjust="spacing">...</text>
<text x="145.3" y="922.7" class="t" textLength="96.5" lengthAdjust="spacingAndGlyphs">AND THEN THE</text>
<text x="123.2" y="941" class="t" textLength="149.5" lengthAdjust="spacingAndGlyphs">WARMING SPEEDS UP.</text>
<text x="116.5" y="1202.7" class="s" textLength="118" lengthAdjust="spacingAndGlyphs">STILL PRETTY COLD.</text>
<text x="381.3" y="1410.5" class="s" textLength="137" lengthAdjust="spacingAndGlyphs">LIMITS OF THIS DATA:</text>
<text x="380.3" y="1432.5" class="s" textLength="300" lengthAdjust="spacingAndGlyphs">SHORT WARMING OR COOLING SPIKES MIGHT BE</text>
<text x="378.8" y="1447.5" class="s" textLength="296" lengthAdjust="spacingAndGlyphs">“SMOOTHED OUT” BY THESE RECONSTRUCTIONS,</text>
<text x="381" y="1463.5" class="s" textLength="300.5" lengthAdjust="spacingAndGlyphs">BUT ONLY IF THEY’RE SMALL OR BRIEF ENOUGH.</text>
<text x="437.5" y="1489" class="s" textLength="66" lengthAdjust="spacingAndGlyphs">POSSIBLE</text>
<text x="569" y="1489.5" class="s" textLength="66.5" lengthAdjust="spacingAndGlyphs">UNLIKELY</text>
<g fill="none" stroke="#14141e" stroke-width="1.75" stroke-linecap="round" stroke-linejoin="round">
<circle cx="151.9" cy="1231.4" r="8.6"/>
<path d="M150,1240.2 L149.2,1255 L144.9,1276 M149.2,1255 L156.5,1276.6"/>
<path d="M150.2,1242 L155.6,1258.4"/>
<path d="M149.6,1242 L141.8,1249 L133,1244"/>
<path d="M133.6,1227.5 L134.2,1244 L136.4,1276"/>
<path d="M133.1,1213.3 L130.4,1222.8 L133.6,1227.6 L136,1222.8 Z" stroke-width="1.4"/>
<path d="M173.7,1208.3 Q173.6,1218.5 167.1,1224" stroke-width="1.5"/>
</g>
<g fill="none" stroke="#111" stroke-width="1.4" stroke-linecap="round" stroke-linejoin="round">
<path d="M190.8,1267.6 Q189.6,1264 190.6,1262.4 Q191.9,1263.5 191.9,1267.2 Q192.4,1263.6 193.8,1262.6 Q194.3,1264.6 192.6,1267.8"/>
<path d="M191,1267.4 Q186.6,1267.4 186.3,1270.6 Q186.3,1272.2 188.6,1272.2 L188.8,1275.2 Q188,1276.6 189.5,1276.8 L198.8,1277 Q201.4,1276.6 200.2,1274.8 Q199.6,1274.3 198.6,1274.5 Q198.4,1270.6 195.6,1269.9 Q193.3,1269.5 192.6,1267.8"/>
<path d="M192.6,1276.6 Q192.4,1273.9 194.6,1273.7"/>
</g>
<circle cx="189.3" cy="1269.4" r="0.6" fill="#111"/>
<g fill="none" stroke="#111" stroke-width="1.9" stroke-linecap="round">
<path d="M397.2,1492.5 L396.8,1481.3 L434.5,1481.1"/>
<path d="M507.2,1481.6 L543.7,1480.9 L543.5,1491"/>
</g>

<rect x="384.7" y="1499.6" width="35.8" height="10" fill="url(#bg)"/>
<rect x="398.5" y="1497.4" width="5" height="10" rx="2.5" fill="#111"/>
<rect x="448.5" y="1499.6" width="36.5" height="10" fill="url(#bg)"/>
<rect x="462.3" y="1497.4" width="5" height="10" rx="2.5" fill="#111"/>
<rect x="513" y="1499.6" width="35.3" height="10" fill="url(#bg)"/>
<rect x="527.0" y="1497.4" width="5" height="10" rx="2.5" fill="#111"/>
<rect x="577.5" y="1499.6" width="35.2" height="10" fill="url(#bg)"/>
<rect x="591.3" y="1497.4" width="5" height="10" rx="2.5" fill="#111"/>
</svg>
</body></html>
